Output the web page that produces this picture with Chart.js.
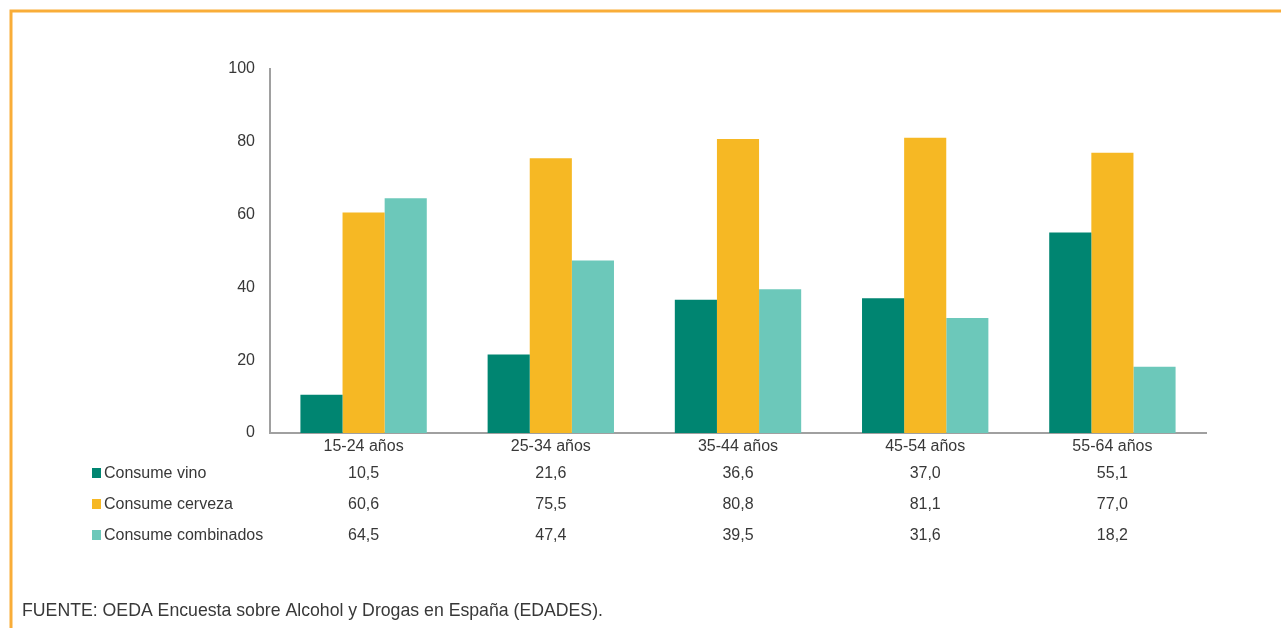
<!DOCTYPE html>
<html>
<head>
<meta charset="utf-8">
<script src="https://cdn.jsdelivr.net/npm/chart.js@4"></script>
<style>
  html, body { margin: 0; padding: 0; background: #fff; }
  #chart { display: block; }
</style>
</head>
<body>
<canvas id="chart" width="1281" height="628"></canvas>
<script>
const categories = ["15-24 años", "25-34 años", "35-44 años", "45-54 años", "55-64 años"];
const seriesNames = ["Consume vino", "Consume cerveza", "Consume combinados"];
const vino = [10.5, 21.6, 36.6, 37.0, 55.1];
const cerveza = [60.6, 75.5, 80.8, 81.1, 77.0];
const combinados = [64.5, 47.4, 39.5, 31.6, 18.2];
const yTicks = [0, 20, 40, 60, 80, 100];
const source = "FUENTE: OEDA Encuesta sobre Alcohol y Drogas en España (EDADES).";

const colors = ["#008571", "#F6B824", "#6CC8BA"];
const font = "Liberation Sans, Arial, sans-serif";
const textColor = "#383838";

// frame, data table under the axis and source line
const extras = {
  id: "extras",
  afterDraw(chart) {
    const ctx = chart.ctx;
    const x = chart.scales.x;
    const rows = [vino, cerveza, combinados];
    ctx.save();

    ctx.strokeStyle = "#F9AD38";
    ctx.lineWidth = 3;
    ctx.beginPath();
    ctx.moveTo(11, 628);
    ctx.lineTo(11, 11);
    ctx.lineTo(1281, 11);
    ctx.stroke();

    ctx.font = "16px " + font;
    ctx.textBaseline = "middle";
    rows.forEach((vals, r) => {
      const y = 474 + r * 31;
      ctx.fillStyle = colors[r];
      ctx.fillRect(92, y - 6, 9, 10);
      ctx.fillStyle = textColor;
      ctx.textAlign = "left";
      ctx.fillText(seriesNames[r], 104, y);
      ctx.textAlign = "center";
      vals.forEach((v, i) => {
        ctx.fillText(v.toFixed(1).replace(".", ","), x.getPixelForValue(i), y);
      });
    });

    ctx.font = "17.7px " + font;
    ctx.textAlign = "left";
    ctx.fillText(source, 22, 611);
    ctx.restore();
  }
};

new Chart(document.getElementById("chart"), {
  type: "bar",
  data: {
    labels: categories,
    datasets: [
      { label: seriesNames[0], data: vino, backgroundColor: colors[0] },
      { label: seriesNames[1], data: cerveza, backgroundColor: colors[1] },
      { label: seriesNames[2], data: combinados, backgroundColor: colors[2] }
    ]
  },
  options: {
    responsive: false,
    animation: false,
    layout: { padding: { top: 69, right: 75, left: 0, bottom: 0 } },
    datasets: { bar: { categoryPercentage: 0.675, barPercentage: 1.0 } },
    plugins: { legend: { display: false }, tooltip: { enabled: false } },
    scales: {
      x: {
        grid: { display: false, drawTicks: false },
        border: { display: true, color: "#A0A0A0", width: 2 },
        ticks: { color: textColor, font: { family: font, size: 16 }, padding: 4, maxRotation: 0 },
        afterFit(scale) { scale.height = 195; }
      },
      y: {
        min: 0,
        max: 100,
        afterBuildTicks(scale) { scale.ticks = yTicks.map(v => ({ value: v })); },
        grid: { display: false, drawTicks: false },
        border: { display: true, color: "#A0A0A0", width: 2 },
        ticks: { color: textColor, font: { family: font, size: 16 }, padding: 15 },
        afterFit(scale) { scale.width = 270; }
      }
    }
  },
  plugins: [extras]
});
</script>
</body>
</html>
